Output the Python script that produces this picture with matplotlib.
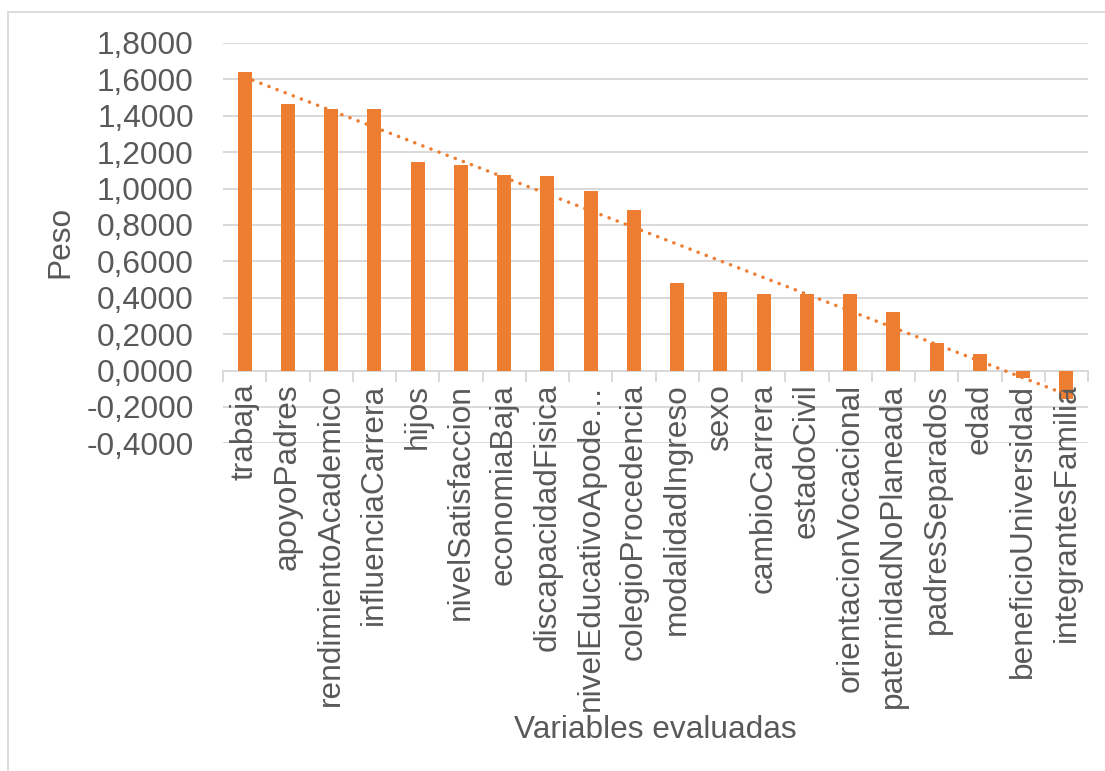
import numpy as np
import matplotlib
matplotlib.use("Agg")
import matplotlib.pyplot as plt
from matplotlib.patches import Rectangle
from matplotlib.ticker import FixedLocator, FuncFormatter

plt.rcParams['font.family'] = ['Liberation Sans', 'DejaVu Sans']

variables = [
    "trabaja", "apoyoPadres", "rendimientoAcademico", "influenciaCarrera",
    "hijos", "nivelSatisfaccion", "economiaBaja", "discapacidadFisica",
    "nivelEducativoApode…", "colegioProcedencia", "modalidadIngreso", "sexo",
    "cambioCarrera", "estadoCivil", "orientacionVocacional",
    "paternidadNoPlaneada", "padresSeparados", "edad",
    "beneficioUniversidad", "integrantesFamilia",
]
pesos = [
    1.640, 1.467, 1.440, 1.435, 1.148, 1.130, 1.077, 1.070, 0.984, 0.880,
    0.482, 0.429, 0.423, 0.423, 0.423, 0.319, 0.150, 0.090, -0.042, -0.158,
]
y_ticks = [-0.4, -0.2, 0.0, 0.2, 0.4, 0.6, 0.8, 1.0, 1.2, 1.4, 1.6, 1.8]

BAR = "#ED7D31"
GRID = "#D9D9D9"
TEXT = "#595959"
FS = 22.8

W, H = 1105, 771
fig = plt.figure(figsize=(W / 100, H / 100), dpi=100)
fig.patch.set_facecolor("white")

# chart frame
fig.add_artist(Rectangle((8 / W, -0.01), 1.02, 1 - 12 / H + 0.01,
                         transform=fig.transFigure, fill=False,
                         edgecolor=GRID, linewidth=1.3))

left, right, top, bottom = 223, 1088, 43, 443.3
ax = fig.add_axes([left / W, 1 - bottom / H, (right - left) / W, (bottom - top) / H])

x = np.arange(len(variables))
ax.bar(x, pesos, width=0.32, color=BAR, zorder=3)

# linear trend line over the category positions
coef = np.polyfit(x + 1, pesos, 1)
xt = np.array([x[0], x[-1]])
ax.plot(xt, np.polyval(coef, xt + 1), color=BAR, linewidth=2.5,
        linestyle=(0, (0.05, 2.45)), dash_capstyle="round", zorder=4)

ax.set_xlim(-0.5, len(variables) - 0.5)
ax.set_ylim(-0.4, 1.8)
ax.yaxis.set_major_locator(FixedLocator(y_ticks))
ax.yaxis.set_major_formatter(FuncFormatter(lambda v, p: f"{v:.4f}".replace(".", ",")))
ax.grid(axis="y", color=GRID, linewidth=1.4, zorder=0)
ax.set_axisbelow(True)

for s in ax.spines.values():
    s.set_visible(False)

# category axis drawn at zero with tick marks between categories
ax.axhline(0, color=GRID, linewidth=1.4, zorder=2)
for b in np.arange(-0.5, len(variables), 1.0):
    ax.plot([b, b], [0, -0.057], color=GRID, linewidth=1.4, zorder=2,
            clip_on=False)

ax.set_xticks(x)
ax.set_xticklabels([])
ax.tick_params(axis="x", length=0, pad=0)
ax.tick_params(axis="y", length=0, pad=21, labelsize=FS, labelcolor=TEXT)

# category labels just below the zero line
for xi, name in zip(x, variables):
    ax.annotate(name, xy=(xi, 0), xycoords="data",
                xytext=(0, -9.5), textcoords="offset points",
                rotation=90, ha="center", va="top", fontsize=FS, color=TEXT,
                annotation_clip=False)

fig.text(60 / W, 1 - 242 / H, "Peso", rotation=90, ha="center", va="center",
         fontsize=FS, color=TEXT)
fig.text(655 / W, 1 - 730 / H, "Variables evaluadas", ha="center", va="center",
         fontsize=FS, color=TEXT)

fig.savefig("out.png", dpi=100)
